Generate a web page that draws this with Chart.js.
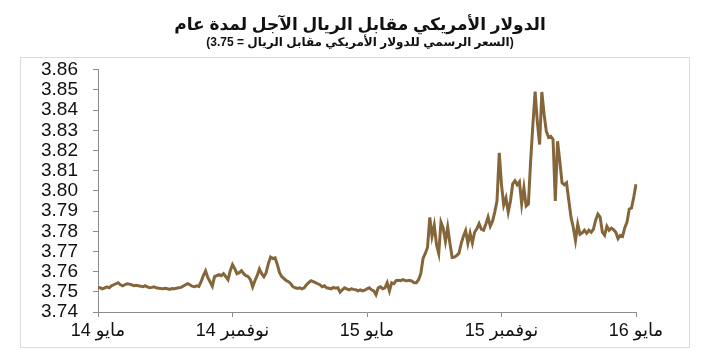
<!DOCTYPE html>
<html>
<head>
<meta charset="utf-8">
<script src="https://cdn.jsdelivr.net/npm/chart.js@4.4.1/dist/chart.umd.min.js"></script>
<style>
  html, body { margin: 0; padding: 0; background: #fff; }
  #wrap { width: 702px; height: 351px; }
</style>
</head>
<body>
<div id="wrap"><canvas id="rateChart" width="702" height="351"></canvas></div>
<script>
// Dollar vs riyal 12-month forward, May 2014 - May 2016
const chartTitle = 'الدولار الأمريكي مقابل الريال الآجل لمدة عام';
const chartSubtitle = '(السعر الرسمي للدولار الأمريكي مقابل الريال = 3.75)';

const xTickLabels = ['14 مايو', '14 نوفمبر', '15 مايو', '15 نوفمبر', '16 مايو'];
const yTickMin = 3.74;
const yTickMax = 3.86;
const yTickStep = 0.01;

const forwardRate = [
    3.752, 3.752, 3.7515, 3.752, 3.7525, 3.752, 3.753, 3.7535, 3.754, 3.7545,
    3.7535, 3.753, 3.7535, 3.754, 3.7538, 3.7535, 3.753, 3.7532, 3.753, 3.7528,
    3.7525, 3.753, 3.7524, 3.752, 3.7522, 3.7525, 3.752, 3.7518, 3.7516, 3.7515,
    3.7518, 3.7515, 3.7512, 3.7516, 3.7515, 3.7518, 3.752, 3.7522, 3.7528, 3.7535,
    3.754, 3.7535, 3.7528, 3.7525, 3.753, 3.7527, 3.755, 3.758, 3.7603, 3.757,
    3.755, 3.7528, 3.7575, 3.758, 3.7585, 3.758, 3.759, 3.7575, 3.756, 3.7605,
    3.7635, 3.7615, 3.759, 3.7595, 3.7605, 3.759, 3.758, 3.7575, 3.756, 3.7525,
    3.7555, 3.758, 3.7613, 3.759, 3.7575, 3.7595, 3.764, 3.7672, 3.7665, 3.7668,
    3.7635, 3.7595, 3.7575, 3.7565, 3.7555, 3.755, 3.754, 3.7525, 3.752, 3.7517,
    3.752, 3.7515, 3.752, 3.7535, 3.7545, 3.7555, 3.755, 3.7545, 3.754, 3.7535,
    3.7525, 3.753, 3.752, 3.7518, 3.7515, 3.7522, 3.7518, 3.752, 3.7498, 3.751,
    3.752, 3.7515, 3.751, 3.7515, 3.7512, 3.751, 3.7505, 3.751, 3.7505, 3.7508,
    3.7515, 3.752, 3.751, 3.7505, 3.7485, 3.752, 3.7525, 3.7515, 3.752, 3.7545,
    3.7505, 3.7545, 3.754, 3.7555, 3.7557, 3.7555, 3.756, 3.7556, 3.7555, 3.7557,
    3.7553, 3.7545, 3.7545, 3.756, 3.759, 3.7665, 3.769, 3.772, 3.7869, 3.7775,
    3.783, 3.7735, 3.769, 3.7845, 3.7815, 3.775, 3.782, 3.774, 3.767, 3.7672,
    3.768, 3.769, 3.7738, 3.7775, 3.7803, 3.774, 3.779, 3.7742, 3.7795, 3.7812,
    3.7838, 3.781, 3.7805, 3.7835, 3.787, 3.7825, 3.785, 3.7895, 3.7951, 3.8189,
    3.803, 3.793, 3.7965, 3.7895, 3.795, 3.8035, 3.805, 3.803, 3.8045, 3.7935,
    3.8015, 3.7925, 3.7935, 3.8148, 3.8328, 3.8492, 3.834, 3.823, 3.849, 3.838,
    3.8295, 3.8265, 3.827, 3.8255, 3.795, 3.8246, 3.8148, 3.804, 3.803, 3.804,
    3.7955, 3.787, 3.782, 3.7755, 3.7835, 3.7785, 3.7792, 3.7805, 3.779, 3.7805,
    3.7795, 3.781, 3.7855, 3.7885, 3.787, 3.7795, 3.778, 3.7825, 3.7805, 3.7815,
    3.7808, 3.7795, 3.7763, 3.778, 3.7775, 3.7818, 3.7845, 3.791, 3.7915, 3.797, 3.8033
];

const pointLabels = forwardRate.map((v, i) => i);
const lastIdx = forwardRate.length - 1;
const tickIdx = xTickLabels.map((t, k) => Math.round(k * lastIdx / (xTickLabels.length - 1)));

const fontFamily = 'Arial, "Liberation Sans", "DejaVu Sans", sans-serif';
const axisColor = '#8c8c8c';

// light frame round the plot, like the newspaper box
const framePlugin = {
    id: 'frame',
    beforeDraw(chart) {
        const c = chart.ctx;
        c.save();
        c.strokeStyle = '#dcdcdc';
        c.lineWidth = 1;
        c.strokeRect(20.5, 57.5, 669, 290);
        c.restore();
    }
};

const ctx = document.getElementById('rateChart').getContext('2d');
new Chart(ctx, {
    type: 'line',
    data: {
        labels: pointLabels,
        datasets: [{
            data: forwardRate,
            borderColor: '#85663a',
            borderWidth: 3,
            pointRadius: 0,
            tension: 0,
            fill: false,
        }],
    },
    options: {
        responsive: false,
        animation: false,
        layout: { padding: { left: 18, right: 0, top: 0, bottom: 0 } },
        plugins: {
            legend: { display: false },
            tooltip: { enabled: false },
            title: {
                display: true,
                text: chartTitle,
                color: '#111',
                font: { family: fontFamily, size: 17, weight: 'bold' },
                padding: { top: 15, bottom: 0 },
            },
            subtitle: {
                display: true,
                text: chartSubtitle,
                color: '#111',
                font: { family: fontFamily, size: 12, weight: 'bold' },
                padding: { top: 0, bottom: 20 },
            },
        },
        scales: {
            x: {
                type: 'category',
                offset: false,
                afterBuildTicks: (scale) => {
                    scale.ticks = tickIdx.map(v => ({ value: v }));
                },
                afterFit: (scale) => { scale.height = 39; },
                ticks: {
                    autoSkip: false,
                    maxRotation: 0,
                    padding: 3,
                    color: '#111',
                    font: { family: fontFamily, size: 18 },
                    callback: (value) => xTickLabels[tickIdx.indexOf(value)],
                },
                grid: { display: true, drawOnChartArea: false, tickLength: 5, color: axisColor },
                border: { color: axisColor },
            },
            y: {
                min: yTickMin,
                max: yTickMax,
                afterFit: (scale) => { scale.width = 80; },
                ticks: {
                    stepSize: yTickStep,
                    autoSkip: false,
                    maxTicksLimit: 20,
                    padding: 15,
                    color: '#111',
                    font: { family: fontFamily, size: 19, lineHeight: 1 },
                    callback: (v) => v.toFixed(2),
                },
                grid: { display: true, drawOnChartArea: false, tickLength: 5, color: axisColor },
                border: { color: axisColor },
            },
            // empty right-hand strip, keeps the plot end where the source has it
            yRight: {
                position: 'right',
                min: yTickMin,
                max: yTickMax,
                afterFit: (scale) => { scale.width = 66; },
                ticks: { display: false },
                grid: { display: false },
                border: { display: false },
            },
        },
    },
    plugins: [framePlugin],
});
</script>
</body>
</html>
